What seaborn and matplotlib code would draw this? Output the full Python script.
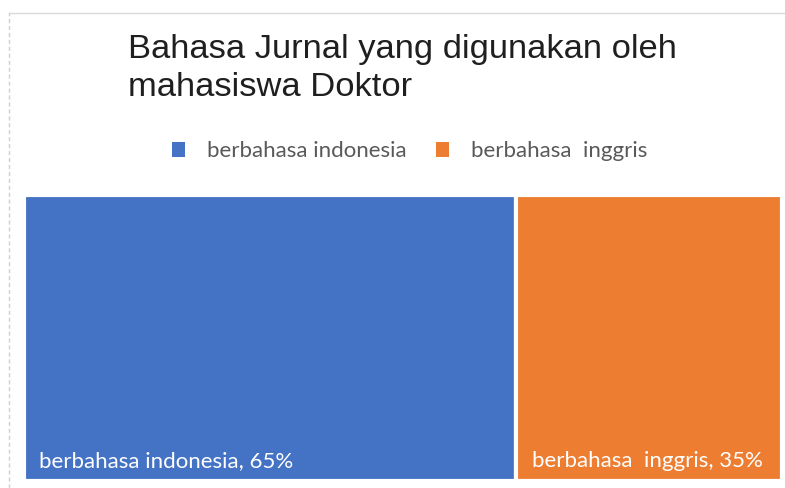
import numpy as np
import pandas as pd
import matplotlib
matplotlib.use('Agg')
import matplotlib.pyplot as plt
import seaborn as sns
from matplotlib.patches import Patch

# data
categories = ['berbahasa indonesia', 'berbahasa  inggris']
percent = [65, 35]
colors = ['#4472C4', '#ED7D31']
title = 'Bahasa Jurnal yang digunakan oleh\nmahasiswa Doktor'

sns.set_theme(style='white')
plt.rcParams['font.family'] = ['Liberation Sans', 'DejaVu Sans']

fig = plt.figure(figsize=(7.85, 4.88), dpi=100)
ax = fig.add_axes([0.030, 0.014, 0.966, 0.586])

# treemap with one row: slices side by side
left = np.cumsum([0] + percent[:-1])
ax.barh([0] * len(percent), percent, left=left, height=1.0,
        color=colors, edgecolor='white', linewidth=3, align='edge')
ax.set_xlim(0, sum(percent))
ax.set_ylim(0, 1)
ax.axis('off')

for l, v, c in zip(left, percent, categories):
    ax.text(l + 2.0, 0.05, f'{c}, {v}%', color='white', fontsize=16,
            family=['Lato', 'DejaVu Sans'], ha='left', va='baseline')

fig.text(0.163, 0.93, title, fontsize=24.8, color='#1f1f1f',
         ha='left', va='top', linespacing=1.3)

handles = [Patch(facecolor=c, edgecolor='none') for c in colors]
leg = fig.legend(handles, categories, loc='center', bbox_to_anchor=(0.522, 0.69),
                 ncol=2, frameon=False, handlelength=0.6, handleheight=0.6,
                 handletextpad=1.0, columnspacing=1.3,
                 prop={'family': ['Lato', 'DejaVu Sans'], 'size': 16})
for t in leg.get_texts():
    t.set_color('#595959')

# light chart-area border (top and left visible)
fig.add_artist(plt.Line2D([0.011, 1.0], [0.973, 0.973], transform=fig.transFigure,
                          color='#d9d9d9', linewidth=1))
fig.add_artist(plt.Line2D([0.011, 0.011], [0.0, 0.973], transform=fig.transFigure,
                          color='#d0d0d0', linewidth=1, linestyle=(0, (3, 2))))

fig.savefig('out.png', dpi=100)
